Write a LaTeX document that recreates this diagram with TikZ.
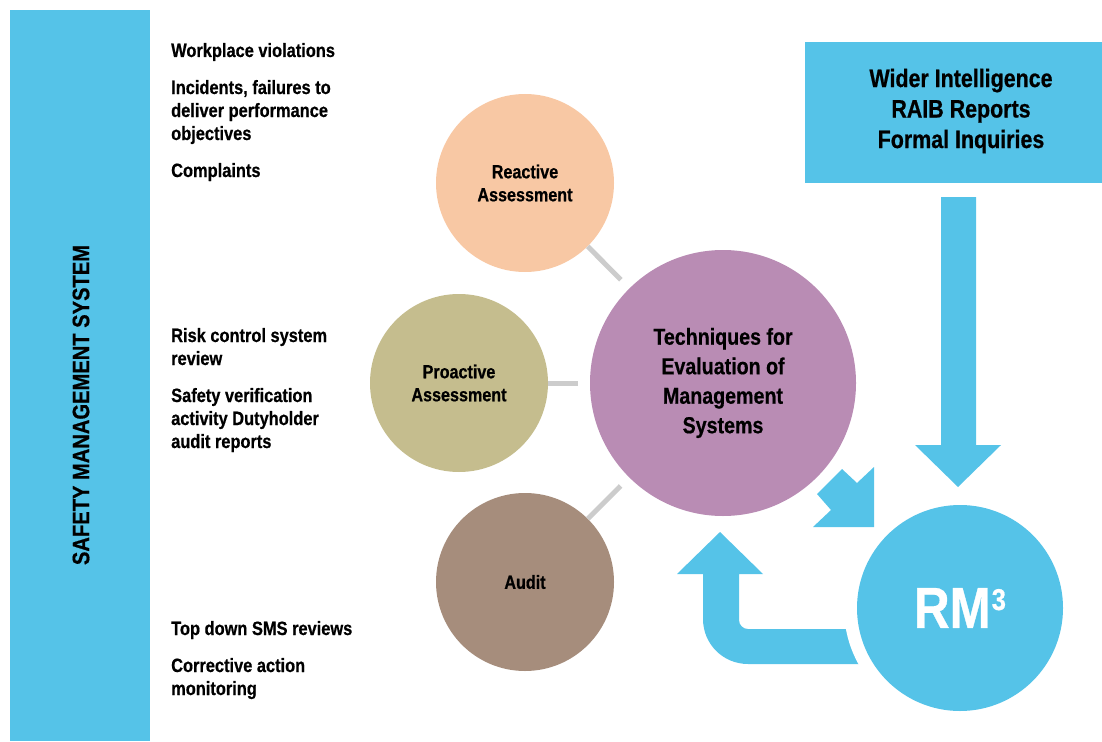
\documentclass[tikz,border=0pt]{standalone}
\usepackage{fontspec}
\setmainfont{Liberation Sans}[FakeStretch=0.85, BoldFeatures={FakeBold=0.6}]
\definecolor{rmblue}{HTML}{55C3E8}
\definecolor{peach}{HTML}{F8C8A4}
\definecolor{olive}{HTML}{C5BD8E}
\definecolor{taupe}{HTML}{A68D7C}
\definecolor{mauve}{HTML}{B98CB4}
\definecolor{linkgray}{HTML}{CCCCCC}
\tikzset{
  sidetext/.style={font=\bfseries\fontsize{19.3}{23}\selectfont, anchor=base west, align=left, inner sep=0pt},
  smallcirc/.style={circle, minimum size=178pt, inner sep=0pt, align=center, font=\bfseries\fontsize{19}{23}\selectfont},
  link/.style={draw=linkgray, line width=5pt, shorten >=12pt},
  bluefill/.style={fill=rmblue, draw=none},
}
\begin{document}
\begin{tikzpicture}[x=1pt,y=-1pt]
\useasboundingbox (0,0) rectangle (1102,741);

% left bar
\node[bluefill, rectangle, minimum width=140pt, minimum height=731pt, inner sep=0pt, anchor=north west] (sms) at (10,10) {};
\node[rotate=90, font=\bfseries\fontsize{23.7}{28}\selectfont, inner sep=0pt] (smstext) at (81,405) {SAFETY MANAGEMENT SYSTEM};

% left texts (anchor = baseline of the last line)
\node[sidetext] (t1) at (171,57) {Workplace violations};
\node[sidetext] (t2) at (171,140) {Incidents, failures to\\deliver performance\\objectives};
\node[sidetext] (t3) at (171,177) {Complaints};
\node[sidetext] (t4) at (171,365) {Risk control system\\review};
\node[sidetext] (t5) at (171,448) {Safety verification\\activity Dutyholder\\audit reports};
\node[sidetext] (t6) at (171,635) {Top down SMS reviews};
\node[sidetext] (t7) at (171,695) {Corrective action\\monitoring};

% circles
\node[smallcirc, fill=peach] (react) at (525,183) {Reactive\\Assessment};
\node[smallcirc, fill=olive] (proact) at (459,383) {Proactive\\Assessment};
\node[smallcirc, fill=taupe] (audit) at (525,582) {Audit};
\node[circle, minimum size=266pt, inner sep=0pt, fill=mauve, align=center,
      font=\bfseries\fontsize{23.1}{29.5}\selectfont] (tech) at (723,383)
      {Techniques for\\Evaluation of\\Management\\Systems};

\draw[link] (react) -- (tech);
\draw[link] (proact) -- (tech);
\draw[link] (audit) -- (tech);

% top right box
\node[bluefill, rectangle, minimum width=297pt, minimum height=141pt, inner sep=0pt, anchor=north west] (wider) at (805,42) {};
\node[align=center, inner sep=0pt, font=\bfseries\fontsize{25.2}{30.5}\selectfont] (widertext) at (961,111)
  {Wider Intelligence\\RAIB Reports\\Formal Inquiries};

% return arrow (RM3 -> techniques)
\fill[rmblue] (720,532) -- (763,574) -- (739,574) -- (739,620)
  .. controls (739,625) and (743,629) .. (748,629) -- (900,629) -- (900,664) -- (748,664)
  .. controls (723,664) and (703,644) .. (703,619) -- (703,574) -- (677,574) -- cycle;

% RM3 circle with white gap
\fill[white] (960,608) circle[radius=116];
\node[circle, minimum size=206pt, inner sep=0pt, fill=rmblue, text=white,
      font=\bfseries\fontsize{58}{60}\selectfont] (rm) at (960,608)
  {RM\kern1pt\raisebox{18pt}{\fontsize{30}{30}\selectfont\bfseries 3}};

% down arrow
\fill[rmblue] (941,197) -- (976,197) -- (976,445) -- (1001,445) -- (958,487) -- (915,445) -- (941,445) -- cycle;

% diagonal arrow
\fill[rmblue] (874,467) -- (857,483) -- (842,469) -- (817,494) -- (831,510) -- (813,527) -- (874,527) -- cycle;
\end{tikzpicture}
\end{document}
